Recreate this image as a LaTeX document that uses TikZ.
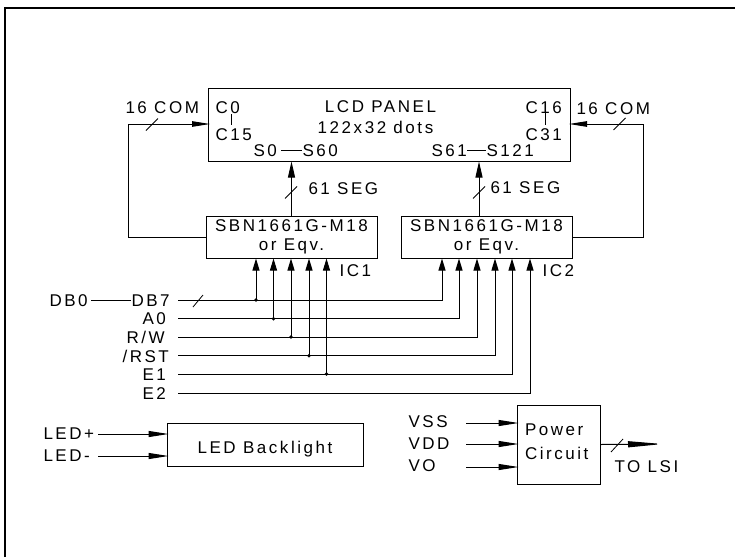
\documentclass[tikz,border=0pt]{standalone}
\usepackage{fontspec}
\setmainfont[LetterSpace=15]{Liberation Sans}
\usetikzlibrary{arrows.meta,positioning}
\begin{document}
\begin{tikzpicture}
	[x=1pt,y=-1pt,
	font=\fontsize{17}{19.5}\selectfont,
	line width=1pt,
	every node/.style={inner sep=0pt},
	box/.style={draw,align=center},
	lbl/.style={anchor=west,text height=12.2pt,text depth=0pt},
	link/.style={-{Triangle[length=16pt,width=7pt]}},
	com/.style={-{Triangle[length=18pt,width=5.5pt]},shorten >=-2pt},
	up/.style={-{Triangle[length=12pt,width=7pt]}},
	feed/.style={-{Triangle[length=20pt,width=6pt]},shorten >=-2pt},
	tick/.style={line width=0.8pt}]
	\useasboundingbox (0,0) rectangle (735,557);
	\draw[line width=2pt] (5,557) -- (5,8) -- (735,8);
	% boxes
	\node[box,minimum width=362pt,minimum height=73pt] (panel) at (389.5,124.5) {};
	\node[box,minimum width=171pt,minimum height=42pt] (ic1) at (291.5,237) {SBN1661G-M18\\or Eqv.};
	\node[box,minimum width=171pt,minimum height=42pt] (ic2) at (486.5,237) {SBN1661G-M18\\or Eqv.};
	\node[box,minimum width=196pt,minimum height=43pt,text height=18pt,text depth=1pt] (back) at (265,444.5) {LED Backlight};
	\node[box,minimum width=83pt,minimum height=79pt,text width=67pt,align=left,text height=12pt,text depth=31pt,font=\fontsize{17}{24}\selectfont] (power) at (558.5,444.5) {Power\\Circuit};
	% panel texts
	\node[anchor=center] (title) at (380.5,106.5) {LCD PANEL};
	\node[anchor=center] (dots) at (375.5,127) {122x32 dots};
	\node[lbl] (c0) at (215,107) {C0};
	\node[lbl] (c15) at (215,134) {C15};
	\node[lbl] (c16) at (525,107) {C16};
	\node[lbl] (c31) at (525,134) {C31};
	\node[lbl] (s0) at (253,150) {S0};
	\node[lbl] (s60) at (302,150) {S60};
	\node[lbl] (s61) at (431,150) {S61};
	\node[lbl] (s121) at (486,150) {S121};
	\draw (231,114) -- (231,125);
	\draw (545,105) -- (545,125);
	\draw ([xshift=4pt]s0.east) -- (s60.west);
	\draw (s61.east) -- (s121.west);
	% com and seg
	\node[lbl] (comA) at (125,107) {16 COM};
	\node[lbl] (comB) at (576,108) {16 COM};
	\node[lbl] (segA) at (308,188) {61 SEG};
	\node[lbl] (segB) at (490,187) {61 SEG};
	\coordinate (ca) at (128,124);
	\coordinate (cb) at (643,124);
	\coordinate (ta) at (152,124.5);
	\coordinate (tb) at (619.5,124);
	\coordinate (tc) at (291,192.5);
	\coordinate (td) at (479,192.5);
	\draw[com] (ic1.west) -- (ic1.west -| ca) -- (ca) -- (ca -| panel.west);
	\draw[com] (ic2.east) -- (ic2.east -| cb) -- (cb) -- (cb -| panel.east);
	\draw[link] (ic1.north) -- (ic1.north |- panel.south);
	\draw[link] (td |- ic2.north) -- (td |- panel.south);
	\foreach \t in {ta,tb,tc,td}
		\draw[tick] ([xshift=-6pt,yshift=-6pt]\t) -- ([xshift=6pt,yshift=6pt]\t);
	\node[lbl] (icA) at (339,270) {IC1};
	\node[lbl] (icB) at (542,270) {IC2};
	% data bus
	\node[lbl] (db0) at (49,300) {DB0};
	\node[lbl] (db7) at (131,300) {DB7};
	\draw ([xshift=3pt]db0.east) -- (db7.west);
	\node[lbl] (a0) at (142,318.5) {A0};
	\node[lbl] (rw) at (126,337) {R/W};
	\node[lbl] (rst) at (122,356) {/RST};
	\node[lbl] (e1) at (142,374.5) {E1};
	\node[lbl] (e2) at (142,393) {E2};
	\foreach \n/\y/\xa/\xb in {1/300/256/442,2/318.7/273.5/459,3/337/291/477,4/355.7/309/495,5/374/326.5/512,6/393/0/530}{
		\coordinate (s\n) at (178,\y);
		\coordinate (e\n) at (\xb,\y);
		\draw[up] (s\n) -- (e\n) -- (e\n |- ic2.south);
		\ifnum\n<6
			\coordinate (j\n) at (\xa,\y);
			\fill (j\n) circle (1.8pt);
			\draw[up] (j\n) -- (j\n |- ic1.south);
		\fi
	}
	\coordinate (te) at (198,301);
	\draw[tick] ([xshift=-5pt,yshift=-6pt]te) -- ([xshift=5pt,yshift=6pt]te);
	% backlight
	\node[lbl] (ledp) at (43,433) {LED+};
	\node[lbl] (ledn) at (43,455) {LED-};
	\coordinate (lp) at (98,434);
	\coordinate (ln) at (98,456);
	\draw[feed] (lp) -- (lp -| back.west);
	\draw[feed] (ln) -- (ln -| back.west);
	% power
	\node[lbl] (vss) at (408,421) {VSS};
	\node[lbl] (vdd) at (408,443) {VDD};
	\node[lbl] (vo) at (408,465) {VO};
	\coordinate (pa) at (466,423);
	\coordinate (pb) at (466,444);
	\coordinate (pc) at (466,467);
	\foreach \p in {pa,pb,pc}
		\draw[feed] (\p) -- (\p -| power.west);
	\coordinate (lsi) at (663,444);
	\coordinate (tf) at (617,445.5);
	\draw[-{Triangle[length=35pt,width=6pt]}] (power.east) -- (lsi);
	\draw[tick] ([xshift=-6pt,yshift=-6.5pt]tf) -- ([xshift=6pt,yshift=6.5pt]tf);
	\node[lbl] (tolsi) at (614,466) {TO LSI};
\end{tikzpicture}
\end{document}
